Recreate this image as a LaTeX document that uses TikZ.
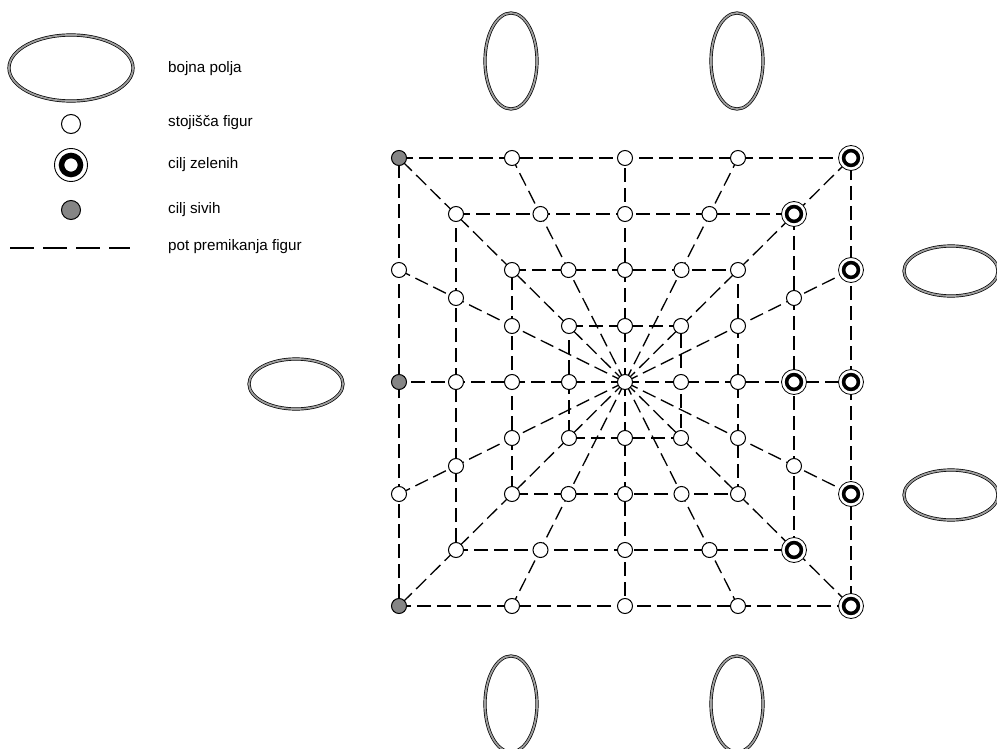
\documentclass[tikz,border=0pt]{standalone}
\usepackage{fontspec}
\setmainfont{Liberation Sans}
\usetikzlibrary{backgrounds}
\definecolor{sivo}{gray}{0.52}
\definecolor{polje}{gray}{0.62}

\begin{document}
\begin{tikzpicture}[x=1pt, y=-1pt,
        spot/.style={circle, draw, line width=1pt, fill=white, inner sep=0pt, minimum size=15pt},
        goal/.style={spot, minimum size=25pt, line width=0.8pt, path picture={\draw[line width=3.6pt] (path picture bounding box.center) circle (7.4pt);}},
        biggoal/.style={spot, minimum size=33pt, line width=0.9pt, path picture={\draw[line width=5.5pt] (path picture bounding box.center) circle (9.5pt);}},
        greyspot/.style={spot, fill=sivo},
        route/.style={dash pattern=on 14pt off 6pt, line width=1.3pt},
        field/.style={double=polje, double distance=1.8pt, line width=0.7pt},
        legendtext/.style={anchor=base west, inner sep=0pt, font=\fontsize{15.2}{18}\selectfont},
        ]
        \useasboundingbox (0,0) rectangle (997,749);

        % Centre of the board
        \node[spot] (c) at (625,382) {};
        % Rings 1-3: corners, quarter points and midpoints of each side (top, right, bottom, left)
        \foreach \i/\dx/\dy/\ka/\kb in {
            0/-1/-1/greyspot/spot, 1/-0.5/-1/spot/spot, 2/0/-1/spot/spot, 3/0.5/-1/spot/spot,
            4/1/-1/goal/goal, 5/1/-0.5/goal/spot, 6/1/0/goal/goal, 7/1/0.5/goal/spot,
            8/1/1/goal/goal, 9/0.5/1/spot/spot, 10/0/1/spot/spot, 11/-0.5/1/spot/spot,
            12/-1/1/greyspot/spot, 13/-1/0.5/spot/spot, 14/-1/0/greyspot/spot, 15/-1/-0.5/spot/spot} {
            \node[\ka] (r1-\i) at ({625+226*\dx},{382+224*\dy}) {};
            \node[\kb] (r2-\i) at ({625+169*\dx},{382+168*\dy}) {};
            \node[spot] (r3-\i) at ({625+113*\dx},{382+112*\dy}) {};
        }
        % Ring 4: corners and midpoints only
        \foreach \i/\dx/\dy in {0/-1/-1, 2/0/-1, 4/1/-1, 6/1/0, 8/1/1, 10/0/1, 12/-1/1, 14/-1/0} {
            \node[spot] (r4-\i) at ({625+56*\dx},{382+56*\dy}) {};
        }

        % Paths: rays from the centre and the four squares
        \begin{scope}[on background layer]
            \foreach \i in {0,...,15} {
                \draw[route] (c.center) -- (r1-\i.center);
            }
            \foreach \r in {1,2,3,4} {
                \draw[route] (r\r-0.center) -- (r\r-4.center) -- (r\r-8.center) -- (r\r-12.center) -- cycle;
            }
        \end{scope}

        % Battle fields
        \draw[field] (511,61) ellipse [x radius=26, y radius=48];
        \draw[field] (737,61) ellipse [x radius=26, y radius=48];
        \draw[field] (511,704) ellipse [x radius=26, y radius=48];
        \draw[field] (737,704) ellipse [x radius=26, y radius=48];
        \draw[field] (951,271) ellipse [x radius=47, y radius=25];
        \draw[field] (951,495) ellipse [x radius=47, y radius=25];
        \draw[field] (296,384) ellipse [x radius=47, y radius=25];

        % Legend
        \draw[field] (71,68) ellipse [x radius=62, y radius=33];
        \node[spot, minimum size=19pt] (lspot) at (71,124) {};
        \node[biggoal] (lgoal) at (71,165) {};
        \node[greyspot, minimum size=19pt] (lgrey) at (71,210) {};
        \coordinate (lrs) at (10,248);
        \coordinate (lre) at (130,248);
        \draw[route, line width=2.2pt, dash pattern=on 23.5pt off 9.5pt] (lrs) -- (lre);
        \node[legendtext] (t1) at (168,73) {bojna polja};
        \node[legendtext] (t2) at (168,127) {stojišča figur};
        \node[legendtext] (t3) at (168,169) {cilj zelenih};
        \node[legendtext] (t4) at (168,214) {cilj sivih};
        \node[legendtext] (t5) at (168,251) {pot premikanja figur};

    \end{tikzpicture}
\end{document}
